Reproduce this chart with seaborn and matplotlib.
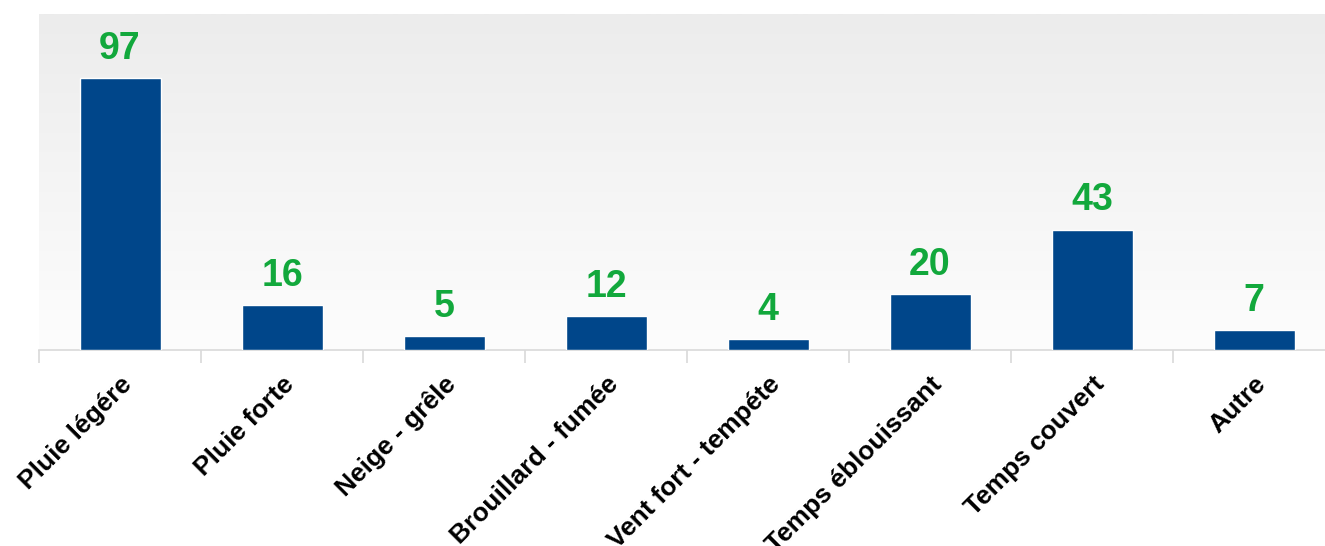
import numpy as np
import pandas as pd
import matplotlib
matplotlib.use("Agg")
import matplotlib.pyplot as plt
import seaborn as sns
from matplotlib.colors import LinearSegmentedColormap

categories = ["Pluie légére", "Pluie forte", "Neige - grêle", "Brouillard - fumée",
              "Vent fort - tempéte", "Temps éblouissant", "Temps couvert", "Autre"]
values = [97, 16, 5, 12, 4, 20, 43, 7]

sns.set_theme(style="white")
plt.rcParams['font.family'] = ['Liberation Sans', 'DejaVu Sans']

fig = plt.figure(figsize=(13.25, 5.46), dpi=100)
ax = fig.add_axes([39/1325, 196/546, 1296/1325, 336/546])

df = pd.DataFrame({"cat": categories, "val": values})
sns.barplot(data=df, x="cat", y="val", color="#00468a", width=0.5, saturation=1,
            ax=ax, zorder=3)

ax.set_xlim(-0.5, len(categories) - 0.5)
ax.set_ylim(0, 120)

# gradient background
cmap = LinearSegmentedColormap.from_list("bg", ["#fdfdfd", "#ececec"])
grad = np.linspace(0, 1, 256).reshape(-1, 1)
ax.imshow(grad, cmap=cmap, aspect="auto", origin="lower",
          extent=(-0.5, len(categories) - 0.5, 0, 120), zorder=0)

for sp in ["top", "right", "left"]:
    ax.spines[sp].set_visible(False)
ax.spines["bottom"].set_color("#d9d9d9")
ax.spines["bottom"].set_linewidth(1.2)
ax.set_yticks([])
ax.set_xlabel("")
ax.set_ylabel("")

ax.set_xticks(range(len(categories)))
ax.set_xticklabels(categories, rotation=45, ha="right", va="top",
                   rotation_mode="anchor", fontsize=19, fontweight="bold",
                   color="black")
ax.tick_params(axis="x", which="major", length=0, pad=16)
ax.set_xticks(np.arange(-0.5, len(categories) + 0.5, 1), minor=True)
ax.tick_params(axis="x", which="minor", length=9, width=1.2, color="#d9d9d9",
               bottom=True)

for i, v in enumerate(values):
    ax.text(i, v + 4.0, str(v), ha="center", va="bottom", fontsize=27,
            fontweight="bold", color="#12a83c", zorder=4)

fig.savefig("out.png", dpi=100, facecolor="white")
